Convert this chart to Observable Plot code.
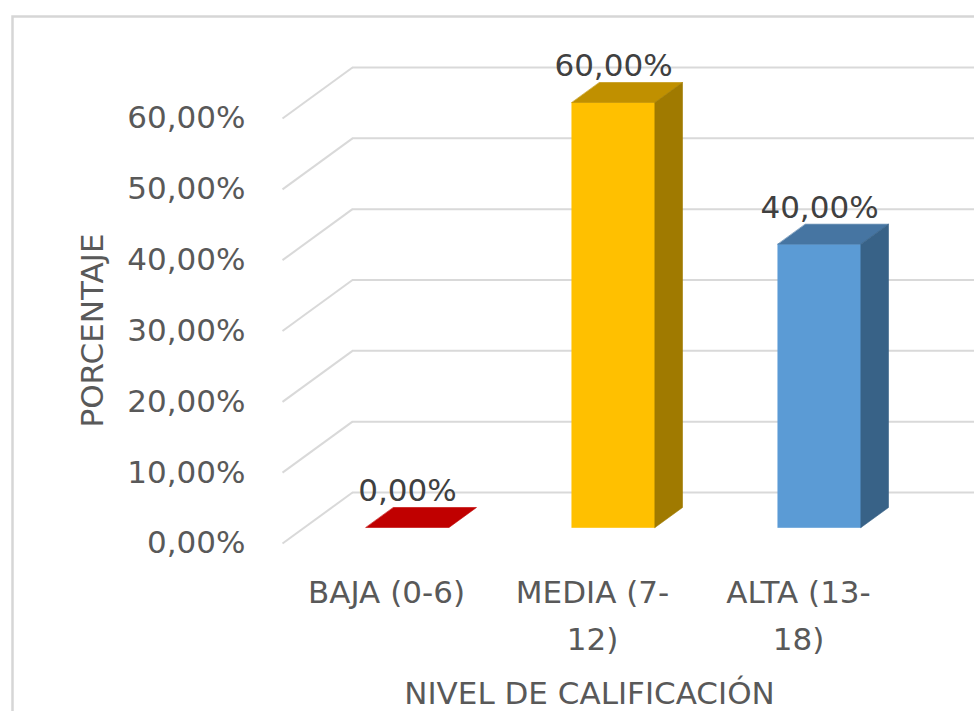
<!DOCTYPE html>
<html>
<head>
<meta charset="utf-8">
<script src="https://cdn.jsdelivr.net/npm/d3@7"></script>
<script src="https://cdn.jsdelivr.net/npm/@observablehq/plot@0.6"></script>
<style>
  body { margin: 0; background: #ffffff; }
  #chart svg { display: block; }
</style>
</head>
<body>
<div id="chart"></div>
<script>
// ---- data ----
const categories = ["BAJA (0-6)", "MEDIA (7-12)", "ALTA (13-18)"];
const categoryTickLabels = ["BAJA (0-6)", "MEDIA (7-\n12)", "ALTA (13-\n18)"];
const percentages = [0, 60, 40];
const frontColors = ["#C00000", "#FFC000", "#5B9BD5"];
const topColors = ["#C00000", "#C09000", "#4675A2"];
const sideColors = ["#8E0000", "#A07A00", "#386287"];
const yTicks = [0, 10, 20, 30, 40, 50, 60];
const xTitle = "NIVEL DE CALIFICACIÓN";
const yTitle = "PORCENTAJE";

// ---- layout (pixels) ----
const W = 974, H = 711;
const xDomain = [0, 2], xRange = [407, 819];     // bar front-plane centres
const yDomain = [0, 60], yRange = [527, 102];    // bar front-plane values
const pxX = (xDomain[1] - xDomain[0]) / (xRange[1] - xRange[0]); // data units per px
const pxY = (yDomain[1] - yDomain[0]) / (yRange[0] - yRange[1]);
const halfBar = 41.5;            // px
const barDepth = [27.5, 20];     // px (right, up)
const backWall = [48, 35];       // px offset of back wall from bar front plane (right, up)
const floorFront = [22, 16];     // px offset of floor front edge (left, down)
const wallX = -0.5;              // left wall, in category units (bar front plane)
const marginLeft = xRange[0] + (wallX - xDomain[0]) / pxX + backWall[0];
const marginBottom = H - (yRange[0] + floorFront[1]);

const fmt = v => v.toFixed(2).replace(".", ",") + "%";

const bars = categories.map((c, i) => ({
  cat: c, i, v: percentages[i],
  front: frontColors[i], top: topColors[i], side: sideColors[i]
}));

// faces of each 3D bar as polygons (data units)
const faces = [];
bars.forEach(b => {
  const hw = halfBar * pxX, dx = barDepth[0] * pxX, dy = barDepth[1] * pxY;
  const L = b.i - hw, R = b.i + hw, v = b.v;
  const add = (name, color, pts) => pts.forEach(([x, y]) => faces.push({id: b.cat + name, color, x, y}));
  if (v > 0) add("front", b.front, [[L, 0], [R, 0], [R, v], [L, v]]);
  add("top", b.top, [[L, v], [R, v], [R + dx, v + dy], [L + dx, v + dy]]);
  if (v > 0) add("side", b.side, [[R, 0], [R + dx, dy], [R + dx, v + dy], [R, v]]);
});

// diagonal gridlines on the left wall
const diag = yTicks.map(t => ({
  x1: wallX - floorFront[0] * pxX, y1: t - floorFront[1] * pxY,
  x2: wallX + backWall[0] * pxX,  y2: t + backWall[1] * pxY
}));

const grid = "#d9d9d9";
const textGray = "#595959";

const chart = Plot.plot({
  width: W,
  height: H,
  marginLeft,
  marginRight: 0,
  marginTop: 0,
  marginBottom,
  x: {type: "linear", domain: xDomain, range: xRange},
  y: {type: "linear", domain: yDomain, range: yRange},
  color: {type: "identity"},
  style: {fontFamily: "'DejaVu Sans', Verdana, sans-serif", fontSize: "31px", color: textGray, background: "#ffffff"},
  marks: [
    Plot.frame({stroke: "#d6d6d6", strokeWidth: 2.5, insetLeft: 12 - marginLeft, insetTop: 16, insetRight: -20, insetBottom: -300}),
    Plot.ruleY(yTicks, {y: d => d, dy: -backWall[1], stroke: grid, strokeWidth: 2}),
    Plot.link(diag, {x1: "x1", y1: "y1", x2: "x2", y2: "y2", stroke: grid, strokeWidth: 2}),
    Plot.axisY({ticks: yTicks, tickFormat: fmt, tickSize: 0, tickPadding: 107, dy: floorFront[1], label: null, fontSize: 31, fill: textGray}),
    Plot.axisX({ticks: [0, 1, 2], tickFormat: i => categoryTickLabels[i], tickSize: 0, tickPadding: 26, dx: -floorFront[0] + 1, label: null, fontSize: 31, lineHeight: 1.52, fill: textGray}),
    Plot.line(faces, {x: "x", y: "y", z: "id", fill: "color", stroke: "color", strokeWidth: 0.6, curve: "linear-closed"}),
    Plot.text(bars, {x: "i", y: "v", text: d => fmt(d.v), dy: -36, fill: "#404040", fontSize: 31}),
    Plot.text([xTitle], {frameAnchor: "bottom", textAnchor: "middle", lineAnchor: "middle", dx: 589 - (marginLeft + W) / 2, dy: 151, fill: textGray, fontSize: 31}),
    Plot.text([yTitle], {frameAnchor: "left", textAnchor: "middle", lineAnchor: "middle", dx: 93 - marginLeft, dy: 330 - (H - marginBottom) / 2, rotate: -90, fill: textGray, fontSize: 31})
  ]
});
document.getElementById("chart").append(chart);
</script>
</body>
</html>
